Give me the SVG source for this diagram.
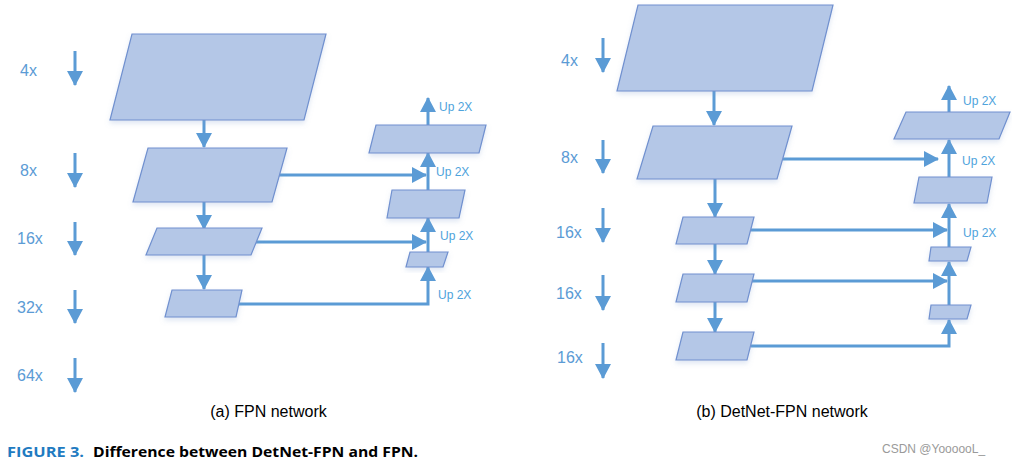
<svg xmlns="http://www.w3.org/2000/svg" width="1012" height="462" viewBox="0 0 1012 462">
<defs>
<filter id="sh" x="-20%" y="-20%" width="140%" height="160%">
<feDropShadow dx="0" dy="3" stdDeviation="2.5" flood-color="#7f9fd0" flood-opacity="0.25"/>
</filter>
<marker id="ah" markerUnits="userSpaceOnUse" markerWidth="15" markerHeight="16" refX="14" refY="8" orient="auto">
<path d="M0,0 L15,8 L0,16 z" fill="#5b9bd5"/>
</marker>
</defs>
<style>
.box{fill:#b4c7e7;stroke:#7090cf;stroke-width:1.2;filter:url(#sh)}
.cn{fill:none;stroke:#5b9bd5;stroke-width:3;marker-end:url(#ah)}
.sc{font-family:"Liberation Sans",Arial,sans-serif;font-size:16px;fill:#5b9bd5}
.up{font-family:"Liberation Sans",Arial,sans-serif;font-size:12px;fill:#4ea3dc}
.cap{font-family:"Liberation Sans",Arial,sans-serif;font-size:16px;fill:#000}
</style>
<rect width="1012" height="462" fill="#fff"/>

<g id="connectors">
<path class="cn" d="M75,51 V85"/>
<path class="cn" d="M75,153 V187"/>
<path class="cn" d="M75,222 V255"/>
<path class="cn" d="M75,290 V323"/>
<path class="cn" d="M75,358 V392"/>
<path class="cn" d="M603,38 V72"/>
<path class="cn" d="M603,140 V173"/>
<path class="cn" d="M603,208 V242"/>
<path class="cn" d="M603,275 V310"/>
<path class="cn" d="M603,343 V378"/>
<path class="cn" d="M204,120 V147"/>
<path class="cn" d="M204,202 V229"/>
<path class="cn" d="M204,255 V289"/>
<path class="cn" d="M279,175 H426"/>
<path class="cn" d="M256,242 H426"/>
<path class="cn" d="M239,304 H428 V267"/>
<path class="cn" d="M428,252 V218"/>
<path class="cn" d="M428,190 V153"/>
<path class="cn" d="M428,125 V98"/>
<path class="cn" d="M714,91 V125"/>
<path class="cn" d="M715,179 V217"/>
<path class="cn" d="M715,244 V274"/>
<path class="cn" d="M715,302 V332"/>
<path class="cn" d="M783,159 H938"/>
<path class="cn" d="M751,230 H947"/>
<path class="cn" d="M751,281 H947"/>
<path class="cn" d="M751,346 H949 V320"/>
<path class="cn" d="M949,305 V262"/>
<path class="cn" d="M949,247 V204"/>
<path class="cn" d="M949,177 V140"/>
<path class="cn" d="M949,112 V86"/>
</g>

<g id="a-c2"><polygon class="box" points="132,34 326,34 304,120 110,120"/></g>
<g id="a-c3"><polygon class="box" points="148,148 287,148 272,202 133,202"/></g>
<g id="a-c4"><polygon class="box" points="157,228 262,228 251,255 146,255"/></g>
<g id="a-c5"><polygon class="box" points="172,290 242,290 236,317 165,317"/></g>
<g id="a-p5"><polygon class="box" points="410,252 448,252 443,267 406,267"/></g>
<g id="a-p4"><polygon class="box" points="392,190 465,190 459,218 387,218"/></g>
<g id="a-p3"><polygon class="box" points="376,125 486,125 479,153 369,153"/></g>

<g id="b-c2"><polygon class="box" points="638,5 833,5 812,91 617,91"/></g>
<g id="b-c3"><polygon class="box" points="653,126 792,126 777,179 637,179"/></g>
<g id="b-c4"><polygon class="box" points="683,217 754,217 747,244 676,244"/></g>
<g id="b-c5"><polygon class="box" points="683,274 754,274 747,302 676,302"/></g>
<g id="b-c6"><polygon class="box" points="683,332 754,332 747,360 676,360"/></g>
<g id="b-p6"><polygon class="box" points="931,305 971,305 967,319 929,319"/></g>
<g id="b-p5"><polygon class="box" points="931,247 971,247 967,261 929,261"/></g>
<g id="b-p4"><polygon class="box" points="919,177 992,177 987,203 914,203"/></g>
<g id="b-p3"><polygon class="box" points="906,112 1010,112 999,139 894,139"/></g>

<g id="labels">
<text class="sc" x="20" y="76">4x</text>
<text class="sc" x="20" y="176">8x</text>
<text class="sc" x="17" y="244">16x</text>
<text class="sc" x="17" y="313">32x</text>
<text class="sc" x="17" y="381">64x</text>
<text class="sc" x="561" y="66">4x</text>
<text class="sc" x="561" y="163">8x</text>
<text class="sc" x="556" y="238">16x</text>
<text class="sc" x="556" y="299">16x</text>
<text class="sc" x="557" y="363">16x</text>

<text class="up" x="439" y="111">Up 2X</text>
<text class="up" x="436" y="176">Up 2X</text>
<text class="up" x="440" y="240">Up 2X</text>
<text class="up" x="438" y="299">Up 2X</text>
<text class="up" x="963" y="105">Up 2X</text>
<text class="up" x="962" y="165">Up 2X</text>
<text class="up" x="963" y="237">Up 2X</text>

<text class="cap" x="268.5" y="417" text-anchor="middle">(a) FPN network</text>
<text class="cap" x="782" y="417" text-anchor="middle">(b) DetNet-FPN network</text>

<text x="7" y="457" font-family="'Open Sans','Liberation Sans',sans-serif" font-size="15" font-weight="bold" fill="#1f7bc1" textLength="77" lengthAdjust="spacingAndGlyphs">FIGURE 3.</text>
<text x="93" y="457" font-family="'Open Sans','Liberation Sans',sans-serif" font-size="15" font-weight="bold" fill="#000" textLength="325" lengthAdjust="spacingAndGlyphs">Difference between DetNet-FPN and FPN.</text>
<text x="882" y="453" font-family="'Liberation Sans',Arial,sans-serif" font-size="12" fill="#9a9a9a">CSDN @YoooooL_</text>
</g>
</svg>
